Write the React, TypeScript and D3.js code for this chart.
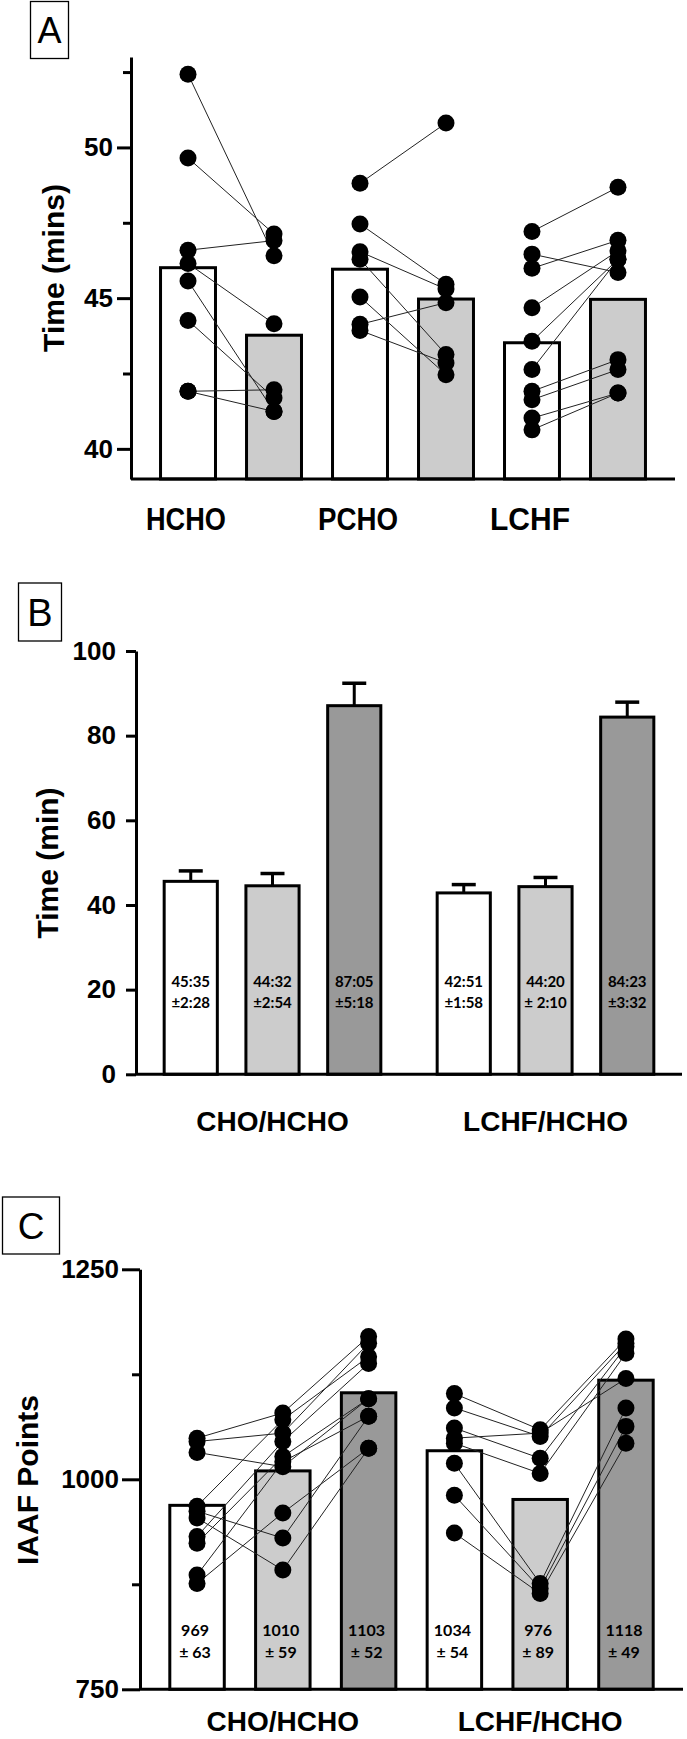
import React, { useEffect, useRef } from "react";
import * as d3 from "d3";

const W = 687;
const H = 1739;
const sans = "'Liberation Sans', Arial, Helvetica, sans-serif";
const human = "Lato, 'Open Sans', sans-serif";
const fills = ["#ffffff", "#cccccc", "#999999"];

// ---- panel A : time (mins) before / after, per diet group
const aDiets = ["HCHO", "PCHO", "LCHF"];
const aBars = ["HCHO-pre", "HCHO-post", "PCHO-pre", "PCHO-post", "LCHF-pre", "LCHF-post"];
const aMeans = [46.01, 43.77, 45.96, 44.97, 43.52, 44.96];
const aHcho = [
  [52.43, 46.41], [49.65, 47.13], [46.59, 46.91], [46.15, 44.15],
  [45.57, 41.24], [44.26, 41.69], [41.91, 41.96], [41.91, 41.24],
];
const aPcho = [
  [48.81, 50.81], [47.46, 45.46], [46.54, 45.3], [46.29, 43.13],
  [45.04, 42.46], [44.13, 44.85], [43.93, 42.85],
];
const aLchf = [
  [47.21, 48.68], [46.46, 45.85], [45.99, 46.92], [44.68, 46.57], [43.57, 46.29],
  [42.63, 46.29], [41.91, 42.96], [41.63, 42.63], [41.02, 41.85], [40.63, 41.85],
];
const aTicks = [40, 45, 50];
const aMinor = [42.5, 47.5, 52.5];

// ---- panel B : time (min), mean ± SD
const bGroups = ["CHO/HCHO", "LCHF/HCHO"];
const bMeanLabels = [["45:35", "44:32", "87:05"], ["42:51", "44:20", "84:23"]];
const bSdLabels = [["±2:28", "±2:54", "±5:18"], ["±1:58", "± 2:10", "±3:32"]];
const bTicks = [0, 20, 40, 60, 80, 100];

// ---- panel C : IAAF points
const cGroups = ["CHO/HCHO", "LCHF/HCHO"];
const cMeans = [[969, 1010, 1103], [1034, 976, 1118]];
const cSds = [[63, 59, 52], [54, 89, 49]];
const cCho = [
  [1049, 1079, 1170], [1045, 1055, 1162], [1032, 1015, 1096], [968, 1071, 1146],
  [962, 930, 1075], [954, 892, 1037], [932, 1045, 1138], [924, 1027, 1096],
  [886, 1021, 1075], [876, 960, 1037],
];
const cLchf = [
  [1102, 1059, 1167], [1085, 1051, 1162], [1061, 1025, 1158], [1049, 1055, 1120],
  [1043, 1007, 1150], [1019, 876, 1085], [981, 870, 1063], [936, 864, 1043],
];
const cTicks = [750, 1000, 1250];
const cMinor = [875, 1125];

const toMin = (s: string) => {
  const [m, sec] = s.replace(/[±\s]/g, "").split(":").map(Number);
  return m + sec / 60;
};

function YAxis({ scale, ticks, minor, size, minorSize, pad, x }: any) {
  const ref = useRef<SVGGElement>(null);
  useEffect(() => {
    const g = d3.select(ref.current);
    g.selectAll("*").remove();
    g.append("g").call(
      d3.axisLeft(scale).tickValues(ticks).tickFormat(d3.format("d")).tickSize(size).tickSizeOuter(0).tickPadding(pad)
    );
    if (minor) {
      g.append("g")
        .call(d3.axisLeft(scale).tickValues(minor).tickSize(minorSize).tickFormat(() => ""))
        .call((s) => s.select(".domain").remove());
    }
    g.selectAll("g").attr("font-size", 26).attr("font-family", sans).attr("font-weight", "bold");
    g.selectAll("path, line").attr("stroke", "#000").attr("stroke-width", 3);
    g.selectAll("text").attr("fill", "#000");
  }, [scale]);
  return <g ref={ref} transform={`translate(${x},0)`} />;
}

function Box({ x, y, w, h, label, size }: any) {
  return (
    <g>
      <rect x={x} y={y} width={w} height={h} fill="#fff" stroke="#000" strokeWidth={1.3} />
      <text x={x + w / 2} y={y + h / 2} dy="0.36em" textAnchor="middle" fontFamily={sans} fontSize={size}>
        {label}
      </text>
    </g>
  );
}

function PanelA() {
  const y = d3.scaleLinear().domain([39, 53]).range([479, 57]);
  const x = d3.scaleBand().domain(aBars).range([131, 675]).padding(0.326);
  const bw = x.bandwidth();
  const cx = (i: number) => (x(aBars[i]) as number) + bw / 2;
  const sets = [aHcho, aPcho, aLchf];
  return (
    <g>
      <Box x={30.5} y={1.5} w={38} h={57} label="A" size={36} />
      {aBars.map((k, i) => (
        <rect key={k} x={x(k)! + 1.5} y={y(aMeans[i])} width={bw - 3} height={y(39) - y(aMeans[i])}
          fill={fills[i % 2]} stroke="#000" strokeWidth={3} />
      ))}
      {sets.map((set, gi) =>
        set.map((d, j) => (
          <line key={`l${gi}-${j}`} x1={cx(gi * 2)} x2={cx(gi * 2 + 1)} y1={y(d[0])} y2={y(d[1])}
            stroke="#222" strokeWidth={1} />
        ))
      )}
      {sets.map((set, gi) =>
        set.flatMap((d, j) =>
          d.map((v, p) => <circle key={`c${gi}-${j}-${p}`} cx={cx(gi * 2 + p)} cy={y(v)} r={8.5} fill="#000" />)
        )
      )}
      <line x1={x.range()[0]} x2={x.range()[1]} y1={y(39)} y2={y(39)} stroke="#000" strokeWidth={3} />
      <YAxis scale={y} ticks={aTicks} minor={aMinor} size={14} minorSize={8} pad={4} x={131} />
      <text transform={`translate(53,268) rotate(-90)`} dy="0.36em" textAnchor="middle"
        fontFamily={sans} fontWeight="bold" fontSize={30}>Time (mins)</text>
      {aDiets.map((d, i) => (
        <text key={d} x={cx(i * 2) - 2} y={530} textAnchor="middle" fontFamily={sans}
          fontWeight="bold" fontSize={32} textLength={80} lengthAdjust="spacingAndGlyphs">{d}</text>
      ))}
    </g>
  );
}

function PanelB() {
  const y = d3.scaleLinear().domain([0, 100]).range([1074.3, 651]);
  const x0 = d3.scaleBand().domain(bGroups).range([136, 682]).paddingInner(0.102).paddingOuter(0.051);
  const x1 = d3.scaleBand<number>().domain([0, 1, 2]).range([0, x0.bandwidth()]).paddingInner(0.313).paddingOuter(0.156);
  const bw = x1.bandwidth();
  return (
    <g>
      <Box x={18.5} y={583} w={43} h={58} label="B" size={38} />
      {bGroups.map((g, gi) =>
        bMeanLabels[gi].map((m, p) => {
          const mean = toMin(m);
          const sd = toMin(bSdLabels[gi][p]);
          const left = x0(g)! + x1(p)!;
          const c = left + bw / 2;
          return (
            <g key={`${g}-${p}`}>
              <line x1={c} x2={c} y1={y(mean)} y2={y(mean + sd)} stroke="#000" strokeWidth={3} />
              <line x1={c - 12} x2={c + 12} y1={y(mean + sd)} y2={y(mean + sd)} stroke="#000" strokeWidth={3.5} />
              <rect x={left + 1.5} y={y(mean)} width={bw - 3} height={y(0) - y(mean)} fill={fills[p]}
                stroke="#000" strokeWidth={3} />
              <text x={c} y={987} textAnchor="middle" fontFamily={human} fontWeight="bold" fontSize={15}>{m}</text>
              <text x={c} y={1008} textAnchor="middle" fontFamily={human} fontWeight="bold" fontSize={15}>
                {bSdLabels[gi][p]}
              </text>
            </g>
          );
        })
      )}
      <line x1={x0.range()[0]} x2={x0.range()[1]} y1={y(0)} y2={y(0)} stroke="#000" strokeWidth={3} />
      <YAxis scale={y} ticks={bTicks} size={10} pad={10} x={136} />
      <text transform={`translate(47,863) rotate(-90)`} dy="0.36em" textAnchor="middle"
        fontFamily={sans} fontWeight="bold" fontSize={30}>Time (min)</text>
      {bGroups.map((g) => (
        <text key={g} x={x0(g)! + x0.bandwidth() / 2} y={1131} textAnchor="middle" fontFamily={sans}
          fontWeight="bold" fontSize={28}>{g}</text>
      ))}
    </g>
  );
}

function PanelC() {
  const y = d3.scaleLinear().domain([750, 1250]).range([1689.3, 1269.3]);
  const keys = cGroups.flatMap((g) => [0, 1, 2].map((p) => `${g}-${p}`));
  const x = d3.scaleBand().domain(keys).range([140, 683]).padding(0.33);
  const bw = x.bandwidth();
  const cx = (gi: number, p: number) => x(keys[gi * 3 + p])! + bw / 2;
  const sets = [cCho, cLchf];
  return (
    <g>
      <Box x={2.5} y={1197} w={57} h={57} label="C" size={37} />
      {cGroups.map((g, gi) =>
        cMeans[gi].map((m, p) => (
          <g key={`${g}-${p}`}>
            <rect x={x(keys[gi * 3 + p])! + 1.5} y={y(m)} width={bw - 3} height={y(750) - y(m)}
              fill={fills[p]} stroke="#000" strokeWidth={3} />
            <text x={cx(gi, p) - 2} y={1636} textAnchor="middle" fontFamily={human} fontWeight="bold" fontSize={16}>{m}</text>
            <text x={cx(gi, p) - 2} y={1658} textAnchor="middle" fontFamily={human} fontWeight="bold" fontSize={16}>
              {`± ${cSds[gi][p]}`}
            </text>
          </g>
        ))
      )}
      {sets.map((set, gi) =>
        set.flatMap((d, j) =>
          [0, 1].map((p) => (
            <line key={`l${gi}-${j}-${p}`} x1={cx(gi, p)} x2={cx(gi, p + 1)} y1={y(d[p])} y2={y(d[p + 1])}
              stroke="#222" strokeWidth={1} />
          ))
        )
      )}
      {sets.map((set, gi) =>
        set.flatMap((d, j) =>
          d.map((v, p) => <circle key={`c${gi}-${j}-${p}`} cx={cx(gi, p)} cy={y(v)} r={8.5} fill="#000" />)
        )
      )}
      <line x1={x.range()[0]} x2={x.range()[1]} y1={y(750)} y2={y(750)} stroke="#000" strokeWidth={3} />
      <YAxis scale={y} ticks={cTicks} minor={cMinor} size={18} minorSize={8} pad={3} x={140} />
      <text transform={`translate(27,1480) rotate(-90)`} dy="0.36em" textAnchor="middle"
        fontFamily={sans} fontWeight="bold" fontSize={30}>IAAF Points</text>
      {cGroups.map((g, gi) => (
        <text key={g} x={cx(gi, 1)} y={1731} textAnchor="middle" fontFamily={sans}
          fontWeight="bold" fontSize={28}>{g}</text>
      ))}
    </g>
  );
}

export default function App() {
  return (
    <svg width={W} height={H} viewBox={`0 0 ${W} ${H}`}
      style={{ position: "absolute", left: 0, top: 0, background: "#fff", overflow: "hidden" }}>
      <rect width={W} height={H} fill="#fff" />
      <PanelA />
      <PanelB />
      <PanelC />
    </svg>
  );
}
